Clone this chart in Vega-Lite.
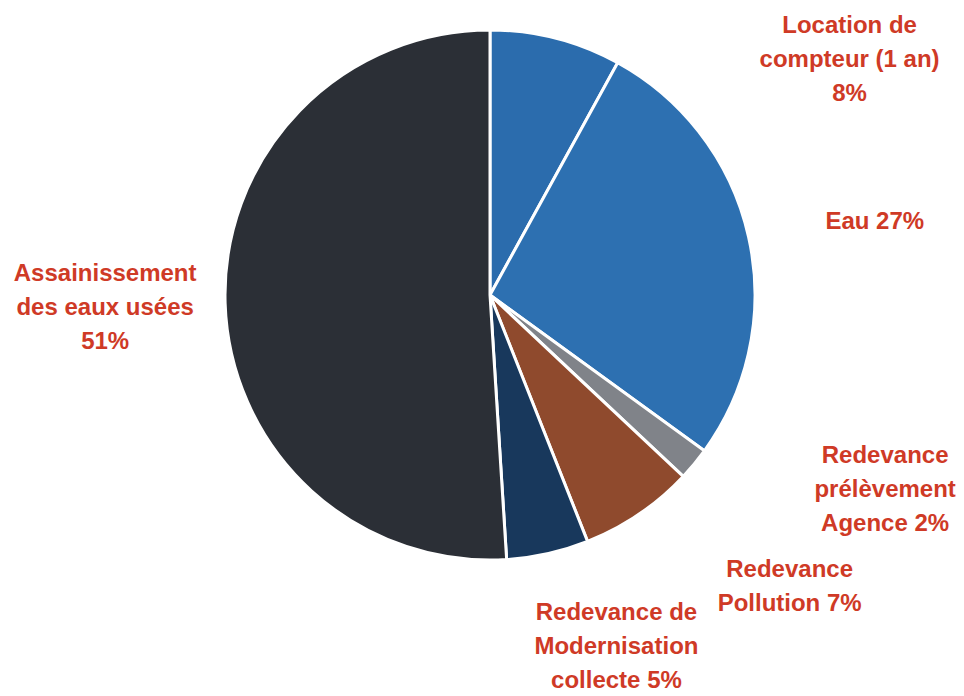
{
  "$schema": "https://vega.github.io/schema/vega-lite/v6.json",
  "width": 948,
  "height": 590,
  "autosize": "none",
  "padding": {"left": 16, "top": 0, "right": 0, "bottom": 106},
  "background": "white",
  "view": {"stroke": null},
  "data": {
    "values": [
      {"idx": 1, "category": "Location de compteur (1 an)", "pct": 8, "label": "Location de\ncompteur (1 an)\n8%"},
      {"idx": 2, "category": "Eau", "pct": 27, "label": "Eau 27%"},
      {"idx": 3, "category": "Redevance prélèvement Agence", "pct": 2, "label": "Redevance\nprélèvement\nAgence 2%"},
      {"idx": 4, "category": "Redevance Pollution", "pct": 7, "label": "Redevance\nPollution 7%"},
      {"idx": 5, "category": "Redevance de Modernisation collecte", "pct": 5, "label": "Redevance de\nModernisation\ncollecte 5%"},
      {"idx": 6, "category": "Assainissement des eaux usées", "pct": 51, "label": "Assainissement\ndes eaux usées\n51%"}
    ]
  },
  "encoding": {
    "theta": {"field": "pct", "type": "quantitative", "stack": true},
    "order": {"field": "idx", "type": "quantitative"}
  },
  "layer": [
    {
      "mark": {"type": "arc", "outerRadius": 265, "stroke": "white", "strokeWidth": 3},
      "encoding": {
        "color": {
          "field": "category",
          "type": "nominal",
          "legend": null,
          "scale": {
            "domain": ["Location de compteur (1 an)", "Eau", "Redevance prélèvement Agence", "Redevance Pollution", "Redevance de Modernisation collecte", "Assainissement des eaux usées"],
            "range": ["#2b6cad", "#2d70b1", "#808389", "#8f4a2d", "#18385c", "#2b2f36"]
          }
        }
      }
    },
    {
      "mark": {
        "type": "text",
        "radius": 300,
        "font": "Liberation Sans",
        "fontSize": 24,
        "fontWeight": "bold",
        "fill": "#cf3a26",
        "align": "center",
        "baseline": "middle",
        "lineBreak": "\n",
        "lineHeight": 34,
        "dx": {"expr": "datum.idx == 1 ? 285 : datum.idx == 2 ? 92 : datum.idx == 3 ? 164 : datum.idx == 4 ? 131 : datum.idx == 5 ? 61 : -85"},
        "dy": {"expr": "datum.idx == 1 ? 22 : datum.idx == 2 ? -8 : datum.idx == 3 ? -30 : datum.idx == 4 ? 27 : datum.idx == 5 ? 25 : -30"}
      },
      "encoding": {
        "text": {"field": "label", "type": "nominal"}
      }
    }
  ]
}
